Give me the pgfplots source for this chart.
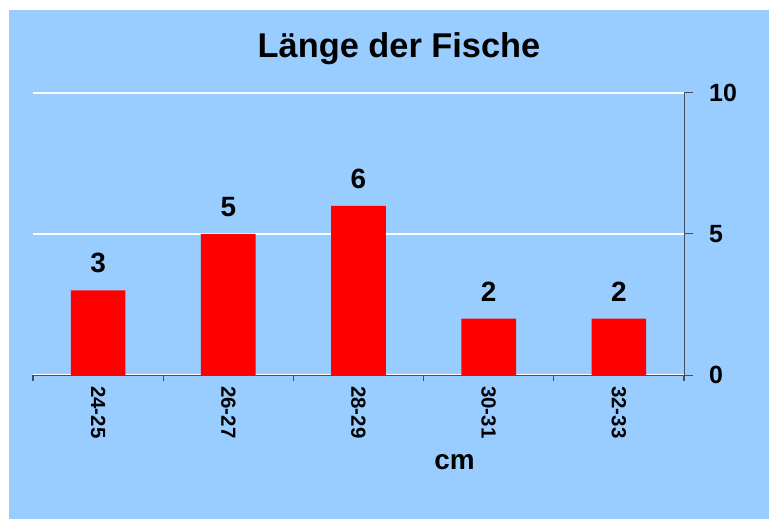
\documentclass[border=0pt]{standalone}
\usepackage{fontspec}
\setmainfont{Liberation Sans}
\usepackage{pgfplots}
\pgfplotsset{compat=1.18}
\definecolor{bgblue}{RGB}{153,204,255}
\definecolor{axgray}{RGB}{68,78,92}
\begin{document}
\begin{tikzpicture}
\fill[white] (0bp,0bp) rectangle (769bp,519bp);
\useasboundingbox (0bp,0bp) rectangle (769bp,519bp);
\fill[bgblue] (9bp,0bp) rectangle (769bp,509bp);
\node[anchor=base, inner sep=0pt, font=\fontsize{34.5}{41}\selectfont\bfseries] at (399bp,461.7bp) {Länge der Fische};
\node[anchor=base, inner sep=0pt, font=\fontsize{28}{34}\selectfont\bfseries] at (454.5bp,49bp) {cm};
\begin{axis}[
  at={(33bp,144bp)}, anchor=south west,
  scale only axis, width=651bp, height=282bp,
  xmin=-0.5, xmax=4.5, ymin=0, ymax=10,
  axis x line*=bottom, axis y line*=right,
  axis line style={axgray, line width=1pt, -},
  xtick={0,1,2,3,4},
  xticklabels={24-25,26-27,28-29,30-31,32-33},
  major x tick style={draw=none},
  minor xtick={-0.5,0.5,1.5,2.5,3.5,4.5},
  minor x tick style={axgray, line width=1.2pt},
  minor tick length=6bp,
  tick align=outside,
  ytick={0,5,10},
  major tick length=9bp,
  y tick style={axgray, line width=1pt},
  ymajorgrids,
  grid style={white, line width=2pt},
  x tick label style={rotate=-90, anchor=west, inner sep=0pt, font=\fontsize{20.5}{24}\selectfont\bfseries},
  xticklabel shift=2bp,
  y tick label style={anchor=west, inner sep=0pt, font=\fontsize{25}{30}\selectfont\bfseries},
  yticklabel shift=16bp,
  /pgf/number format/assume math mode=true,
  ybar, bar width=0.42,
  nodes near coords,
  every node near coord/.append style={anchor=south, inner sep=0pt, yshift=17bp, font=\fontsize{28}{34}\selectfont\bfseries},
  clip=false,
]
\addplot[fill=red, draw=none] coordinates {(0,3) (1,5) (2,6) (3,2) (4,2)};
\draw[axgray, line width=1pt] (axis cs:-0.5,0) -- (axis cs:4.5,0);
\end{axis}
\end{tikzpicture}
\end{document}
